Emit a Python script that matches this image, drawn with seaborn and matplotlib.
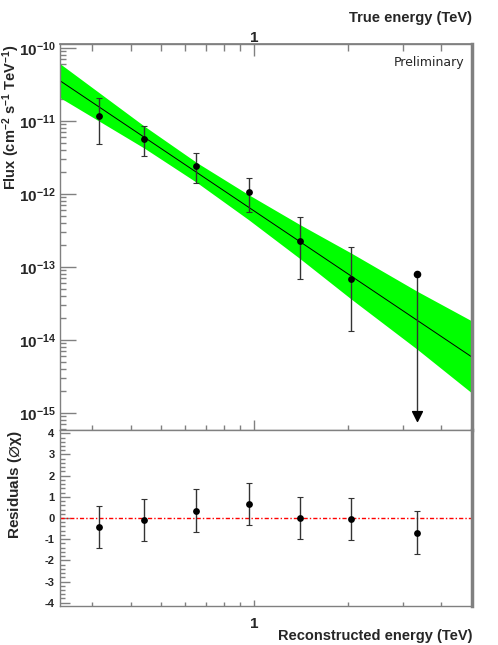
import numpy as np
import pandas as pd
import seaborn as sns
import matplotlib.pyplot as plt
from matplotlib.ticker import LogLocator, NullFormatter, MultipleLocator, FixedLocator, FixedFormatter

# Spectral points (TeV, cm^-2 s^-1 TeV^-1)
energy = [0.317, 0.443, 0.651, 0.958, 1.40, 2.05]
flux = [1.17e-11, 5.61e-12, 2.42e-12, 1.04e-12, 2.23e-13, 6.71e-14]
flux_hi = [2.03e-11, 8.46e-12, 3.65e-12, 1.63e-12, 4.75e-13, 1.84e-13]
flux_lo = [4.75e-12, 3.25e-12, 1.40e-12, 5.60e-13, 6.86e-14, 1.30e-14]

# Upper limit point
ul_energy = [3.35]
ul_flux = [7.94e-14]
ul_floor = [9.0e-16]

# Fitted power law and its butterfly band
fit_energy = [0.237, 5.0]
fit_flux = [3.53e-11, 5.85e-15]
band_energy = [0.237, 0.443, 0.654, 0.958, 1.40, 2.05, 3.35, 5.0]
band_hi = [6.04e-11, 8.41e-12, 2.66e-12, 9.72e-13, 3.79e-13, 1.54e-13, 4.59e-14, 1.82e-14]
band_lo = [2.07e-11, 4.20e-12, 1.42e-12, 4.42e-13, 1.30e-13, 3.61e-14, 7.36e-15, 1.88e-15]

# Residuals (sigma)
res_energy = [0.317, 0.443, 0.651, 0.958, 1.40, 2.05, 3.35]
residuals = [-0.41, -0.09, 0.35, 0.65, 0.01, -0.06, -0.69]
res_err = [1.0, 1.0, 1.0, 1.0, 1.0, 1.0, 1.0]

# Axis ticks
flux_ticks = [1e-15, 1e-14, 1e-13, 1e-12, 1e-11, 1e-10]
res_ticks = [-4, -3, -2, -1, 0, 1, 2, 3, 4]

sns.set_theme(style='ticks')
plt.rcParams['font.family'] = ['Liberation Sans', 'DejaVu Sans']
plt.rcParams['font.weight'] = 'bold'
plt.rcParams['axes.labelweight'] = 'bold'
plt.rcParams['axes.unicode_minus'] = False
plt.rcParams['mathtext.fontset'] = 'custom'
plt.rcParams['mathtext.rm'] = 'Liberation Sans'
plt.rcParams['mathtext.it'] = 'Liberation Sans:italic'
plt.rcParams['mathtext.bf'] = 'Liberation Sans:bold'
plt.rcParams['mathtext.default'] = 'regular'

frame = '#808080'
df = pd.DataFrame({'energy': energy, 'flux': flux})
df_res = pd.DataFrame({'energy': res_energy, 'res': residuals})

fig = plt.figure(figsize=(4.98, 6.45), dpi=100)
ax = fig.add_axes([0.1205, 0.3333, 0.8263, 0.5985])
axr = fig.add_axes([0.1205, 0.0605, 0.8263, 0.2728], sharex=ax)

# Upper panel
ax.set_xscale('log')
ax.set_yscale('log')
ax.fill_between(band_energy, band_lo, band_hi, color='#00ff00', lw=0, zorder=1)
sns.lineplot(x=fit_energy, y=fit_flux, ax=ax, color='black', lw=0.7, zorder=2)
ax.errorbar(energy, flux,
            yerr=[np.array(flux) - np.array(flux_lo), np.array(flux_hi) - np.array(flux)],
            fmt='none', ecolor='#333333', elinewidth=1, capsize=2.2, capthick=0.8, zorder=3)
sns.scatterplot(data=df, x='energy', y='flux', ax=ax, color='black', s=24,
                edgecolor='black', linewidth=0, zorder=4)
ax.vlines(ul_energy, ul_floor, ul_flux, color='#333333', lw=1, zorder=3)
ax.scatter(ul_energy, ul_flux, color='black', s=20, zorder=4)
ax.scatter(ul_energy, ul_floor, color='black', marker='v', s=50, zorder=4)

ax.set_xlim(0.237, 5.0)
ax.set_ylim(5.8e-16, 1.125e-10)
ax.yaxis.set_major_locator(FixedLocator(flux_ticks))
ax.yaxis.set_minor_locator(LogLocator(base=10, subs=np.arange(2, 10), numticks=12))
ax.yaxis.set_minor_formatter(NullFormatter())
ax.tick_params(axis='y', which='major', direction='in', length=11.5, width=1,
               color=frame, labelsize=11, pad=3)
ax.tick_params(axis='y', which='minor', direction='in', length=4, width=1, color=frame)
ax.tick_params(axis='x', which='both', direction='in', labelbottom=False, color=frame)
ax.tick_params(axis='x', which='major', length=7, width=1)
ax.tick_params(axis='x', which='minor', length=3.6, width=1)
ax.set_xlabel('')
ax.set_ylabel('')
ax.text(0.982, 0.951, 'Preliminary', transform=ax.transAxes, ha='right', va='center',
        fontsize=9, fontweight='normal', family='DejaVu Sans')

top = ax.secondary_xaxis('top')
top.xaxis.set_major_locator(FixedLocator([1]))
top.xaxis.set_major_formatter(FixedFormatter(['1']))
top.xaxis.set_minor_locator(LogLocator(base=10, subs=np.arange(2, 10), numticks=12))
top.xaxis.set_minor_formatter(NullFormatter())
top.tick_params(which='both', direction='in', color=frame, labelsize=11, pad=-1)
top.tick_params(which='major', length=8.5, width=1)
top.tick_params(which='minor', length=5, width=1)
top.spines['top'].set_color(frame)

# Residual panel
axr.axhline(0, color='red', lw=1, dashes=(3, 1.5, 1, 1.5), zorder=1)
axr.errorbar(res_energy, residuals, yerr=res_err, fmt='none', ecolor='#333333',
             elinewidth=1, capsize=2.2, capthick=0.8, zorder=3)
sns.scatterplot(data=df_res, x='energy', y='res', ax=axr, color='black', s=24,
                edgecolor='black', linewidth=0, zorder=4)
axr.set_ylim(-4.156, 4.156)
axr.yaxis.set_major_locator(FixedLocator(res_ticks))
axr.yaxis.set_minor_locator(MultipleLocator(0.2))
axr.xaxis.set_major_locator(FixedLocator([1]))
axr.xaxis.set_major_formatter(FixedFormatter(['1']))
axr.xaxis.set_minor_locator(LogLocator(base=10, subs=np.arange(2, 10), numticks=12))
axr.xaxis.set_minor_formatter(NullFormatter())
axr.tick_params(axis='y', which='major', direction='in', length=7, width=1,
                color=frame, labelsize=8, pad=4)
axr.tick_params(axis='y', which='minor', direction='in', length=3.6, width=1, color=frame)
axr.tick_params(axis='x', which='both', direction='in', color=frame, labelsize=11, pad=8)
axr.tick_params(axis='x', which='major', length=4.5, width=1)
axr.tick_params(axis='x', which='minor', length=3, width=1)
axr.set_xlabel('')
axr.set_ylabel('')

for a in (ax, axr):
    for side in ('left', 'right', 'top', 'bottom'):
        a.spines[side].set_color(frame)
        a.spines[side].set_linewidth(1)
    a.spines['right'].set_linewidth(2.5)

fig.text(0.022, 0.8186, r'Flux (cm$^{-2}$ s$^{-1}$ TeV$^{-1}$)', rotation=90,
         ha='center', va='center', fontsize=10.5, fontweight='bold')
fig.text(0.030, 0.248, r'Residuals $\mathrm{(}\varnothing\chi\mathrm{)}$', rotation=90,
         ha='center', va='center', fontsize=11, fontweight='bold')
fig.text(0.948, 0.972, 'True energy (TeV)', ha='right', va='center',
         fontsize=10.5, fontweight='bold')
fig.text(0.948, 0.0135, 'Reconstructed energy (TeV)', ha='right', va='center',
         fontsize=10.5, fontweight='bold')

fig.savefig('out.png', dpi=100)
